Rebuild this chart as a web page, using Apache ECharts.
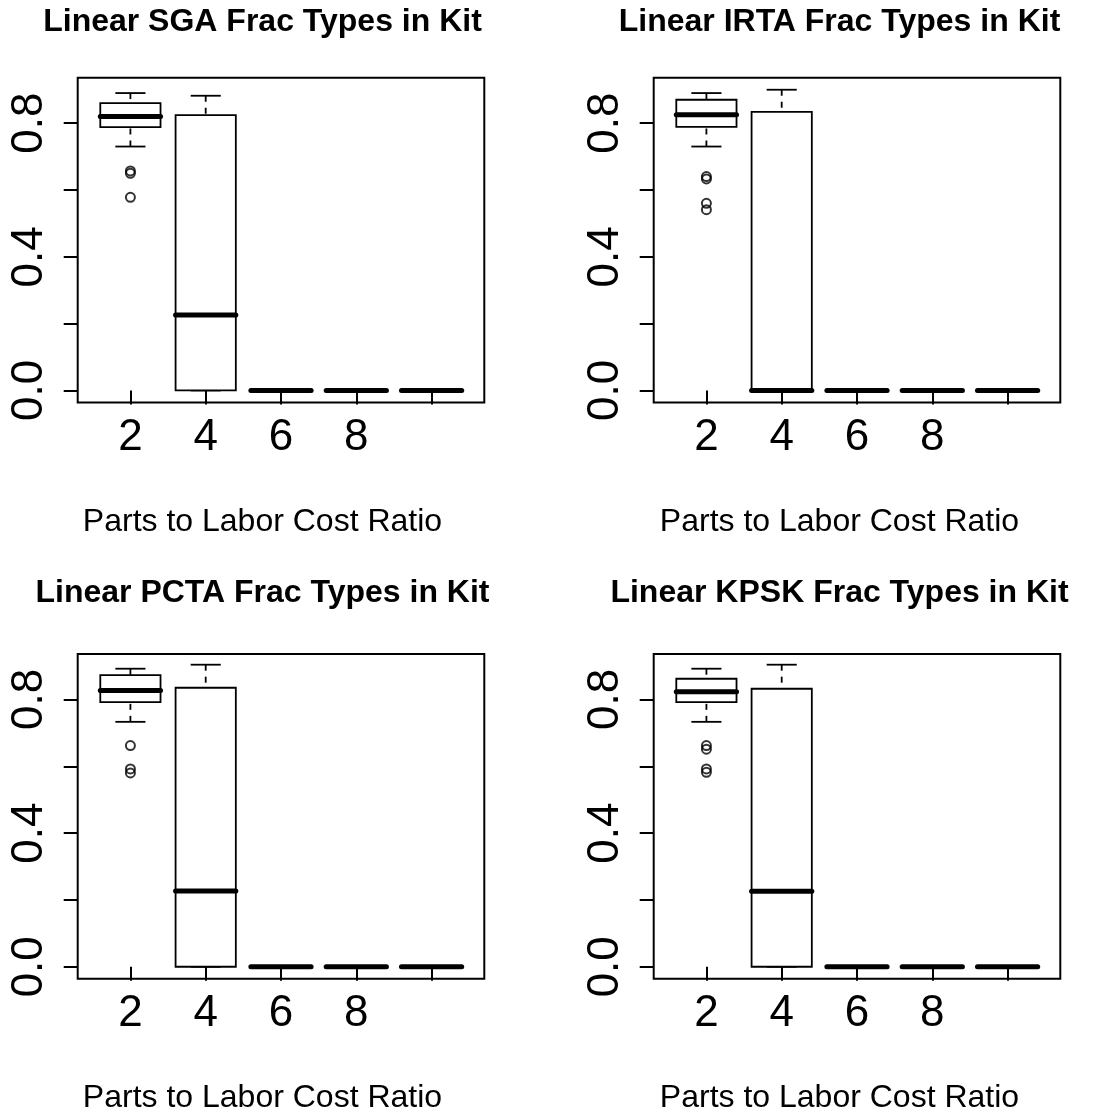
<!DOCTYPE html>
<html>
<head>
<meta charset="utf-8">
<title>Linear Frac Types in Kit</title>
<script src="https://cdn.jsdelivr.net/npm/echarts@6/dist/echarts.min.js"></script>
<style>
  html, body { margin: 0; padding: 0; background: #fff; }
  #chart { width: 1116px; height: 1116px; }
</style>
</head>
<body>
<div id="chart"></div>
<script>
// ---- data ---------------------------------------------------------------
// Each box: [lower whisker, Q1, median, Q3, upper whisker]
const panelTitles = [
  'Linear SGA Frac Types in Kit',
  'Linear IRTA Frac Types in Kit',
  'Linear PCTA Frac Types in Kit',
  'Linear KPSK Frac Types in Kit'
];
const xAxisTitle = 'Parts to Labor Cost Ratio';
const tickLabels = ['2', '4', '6', '8', ''];
const yTicks = [0, 0.2, 0.4, 0.6, 0.8];
const yTickLabels = [0, 0.4, 0.8];

const sgaStats = [
  [0.730, 0.788, 0.820, 0.860, 0.890],
  [0.000, 0.000, 0.226, 0.824, 0.882],
  [0, 0, 0, 0, 0],
  [0, 0, 0, 0, 0],
  [0, 0, 0, 0, 0]
];
const sgaOutliers = [[1, 0.657], [1, 0.650], [1, 0.578]];

const irtaStats = [
  [0.730, 0.789, 0.825, 0.870, 0.890],
  [0.000, 0.000, 0.000, 0.834, 0.900],
  [0, 0, 0, 0, 0],
  [0, 0, 0, 0, 0],
  [0, 0, 0, 0, 0]
];
const irtaOutliers = [[1, 0.640], [1, 0.633], [1, 0.560], [1, 0.541]];

const pctaStats = [
  [0.733, 0.792, 0.827, 0.873, 0.892],
  [0.000, 0.000, 0.227, 0.835, 0.904],
  [0, 0, 0, 0, 0],
  [0, 0, 0, 0, 0],
  [0, 0, 0, 0, 0]
];
const pctaOutliers = [[1, 0.662], [1, 0.592], [1, 0.580]];

const kpskStats = [
  [0.733, 0.792, 0.823, 0.862, 0.892],
  [0.000, 0.000, 0.226, 0.832, 0.904],
  [0, 0, 0, 0, 0],
  [0, 0, 0, 0, 0],
  [0, 0, 0, 0, 0]
];
const kpskOutliers = [[1, 0.662], [1, 0.651], [1, 0.592], [1, 0.582]];

// ---- layout -------------------------------------------------------------
const FONT = "'Liberation Sans', Arial, Helvetica, sans-serif";
const panels = [
  { stats: sgaStats,  outliers: sgaOutliers,  left: 77.7,  top: 77.7, textX: 262.5, titleY: 22,  nameY: 522 },
  { stats: irtaStats, outliers: irtaOutliers, left: 653.7, top: 77.7, textX: 839.5, titleY: 22,  nameY: 522 },
  { stats: pctaStats, outliers: pctaOutliers, left: 77.7,  top: 654,  textX: 262.5, titleY: 593, nameY: 1098 },
  { stats: kpskStats, outliers: kpskOutliers, left: 653.7, top: 654,  textX: 839.5, titleY: 593, nameY: 1098 }
];
const GRID_W = 406.6, GRID_H = 324.8;
const BOX_WIDTH = 0.8;       // in x-axis units
const STAPLE_RATIO = 0.5;    // staple width relative to box width

function renderBox(params, api) {
  const x = api.value(0);
  const lo = api.coord([x, api.value(1)]);
  const q1 = api.coord([x, api.value(2)]);
  const md = api.coord([x, api.value(3)]);
  const q3 = api.coord([x, api.value(4)]);
  const hi = api.coord([x, api.value(5)]);
  const half = api.size([BOX_WIDTH, 0])[0] / 2;
  const cap = half * STAPLE_RATIO;
  const cx = md[0];
  const thin = { stroke: '#000', lineWidth: 1.8, fill: null };
  const dashed = { stroke: '#000', lineWidth: 1.8, lineDash: [6, 6] };
  return {
    type: 'group',
    children: [
      { type: 'line', shape: { x1: cx, y1: hi[1], x2: cx, y2: q3[1] }, style: dashed },
      { type: 'line', shape: { x1: cx, y1: lo[1], x2: cx, y2: q1[1] }, style: dashed },
      { type: 'line', shape: { x1: cx - cap, y1: hi[1], x2: cx + cap, y2: hi[1] }, style: thin },
      { type: 'line', shape: { x1: cx - cap, y1: lo[1], x2: cx + cap, y2: lo[1] }, style: thin },
      { type: 'rect', shape: { x: cx - half, y: q3[1], width: 2 * half, height: q1[1] - q3[1] },
        style: { stroke: '#000', lineWidth: 1.8, fill: '#fff' } },
      { type: 'line', shape: { x1: cx - half, y1: md[1], x2: cx + half, y2: md[1] },
        style: { stroke: '#000', lineWidth: 5, lineCap: 'round' } }
    ]
  };
}

const grid = [], xAxis = [], yAxis = [], series = [], graphic = [];
panels.forEach((p, i) => {
  grid.push({
    left: p.left, top: p.top, width: GRID_W, height: GRID_H,
    show: true, borderColor: '#000', borderWidth: 2, backgroundColor: '#fff'
  });
  xAxis.push({
    type: 'value', gridIndex: i, min: 0.3, max: 5.7,
    axisLine: { show: false },
    splitLine: { show: false },
    axisTick: { show: true, inside: false, length: 14, customValues: [1, 2, 3, 4, 5],
      lineStyle: { color: '#000', width: 2 } },
    axisLabel: { show: true, customValues: [1, 2, 3, 4, 5], margin: 13,
      formatter: v => tickLabels[Math.round(v) - 1],
      color: '#000', fontFamily: FONT, fontSize: 44 }
  });
  yAxis.push({
    type: 'value', gridIndex: i, min: -0.036, max: 0.936,
    axisLine: { show: false },
    splitLine: { show: false },
    axisTick: { show: true, inside: false, length: 14, customValues: yTicks,
      lineStyle: { color: '#000', width: 2 } },
    axisLabel: { show: true, customValues: yTickLabels, rotate: 90, margin: 26,
      formatter: v => v.toFixed(1),
      color: '#000', fontFamily: FONT, fontSize: 44 }
  });
  series.push({
    type: 'custom', xAxisIndex: i, yAxisIndex: i,
    renderItem: renderBox,
    encode: { x: 0, y: [1, 2, 3, 4, 5] },
    data: p.stats.map((s, k) => [k + 1].concat(s)),
    silent: true
  });
  series.push({
    type: 'scatter', xAxisIndex: i, yAxisIndex: i,
    data: p.outliers,
    symbol: 'circle', symbolSize: 9,
    itemStyle: { color: 'rgba(255,255,255,0)', borderColor: '#000', borderWidth: 2 },
    silent: true, z: 3
  });
  graphic.push({
    type: 'text', x: p.textX, y: p.titleY,
    style: { text: panelTitles[i], font: "bold 32px " + FONT, fill: '#000',
      align: 'center', verticalAlign: 'middle' }
  });
  graphic.push({
    type: 'text', x: p.textX, y: p.nameY,
    style: { text: xAxisTitle, font: "32px " + FONT, fill: '#000',
      align: 'center', verticalAlign: 'middle' }
  });
});

const chart = echarts.init(document.getElementById('chart'), null, { renderer: 'canvas' });
chart.setOption({
  backgroundColor: '#fff',
  animation: false,
  grid, xAxis, yAxis, series, graphic
});
</script>
</body>
</html>
